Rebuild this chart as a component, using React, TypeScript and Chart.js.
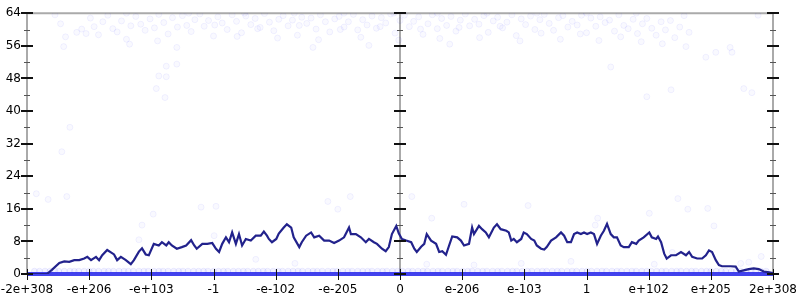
import React, { useEffect, useRef } from 'react';
import { Chart, registerables } from 'chart.js';

Chart.register(...registerables);

const xTickLabels = ['-2e+308', '-e+206', '-e+103', '-1', '-e-102', '-e-205', '0', 'e-206', 'e-103', '1', 'e+102', 'e+205', '2e+308'];
const yMajorTicks = [0, 8, 16, 24, 32, 40, 48, 56, 64];
const yMinorTicks = [4, 12, 20, 28, 36, 44, 52, 60];
const axisXs = [-6, 0, 6];

const avgX = [-6.00,-5.68,-5.60,-5.48,-5.40,-5.32,-5.24,-5.16,-5.08,-5.03,
-4.97,-4.89,-4.84,-4.79,-4.71,-4.65,-4.60,-4.55,-4.49,-4.41,
-4.33,-4.28,-4.20,-4.15,-4.09,-4.04,-3.96,-3.88,-3.83,-3.76,
-3.72,-3.67,-3.59,-3.51,-3.44,-3.36,-3.31,-3.27,-3.18,-3.10,
-3.02,-2.96,-2.91,-2.86,-2.80,-2.75,-2.70,-2.64,-2.59,-2.54,
-2.48,-2.40,-2.32,-2.24,-2.19,-2.14,-2.11,-2.06,-1.99,-1.95,
-1.87,-1.82,-1.75,-1.71,-1.62,-1.58,-1.51,-1.43,-1.38,-1.30,
-1.22,-1.14,-1.06,-0.98,-0.90,-0.82,-0.79,-0.71,-0.63,-0.55,
-0.50,-0.42,-0.37,-0.29,-0.23,-0.18,-0.13,-0.06,-0.02,0.03,
0.10,0.18,0.23,0.27,0.34,0.39,0.43,0.50,0.58,0.63,
0.68,0.74,0.79,0.84,0.92,0.98,1.03,1.11,1.16,1.19,
1.27,1.32,1.38,1.43,1.51,1.56,1.62,1.71,1.75,1.79,
1.83,1.88,1.95,1.99,2.04,2.11,2.16,2.20,2.27,2.32,
2.36,2.43,2.51,2.59,2.64,2.69,2.75,2.80,2.85,2.91,
2.96,3.01,3.07,3.12,3.17,3.23,3.28,3.33,3.39,3.44,
3.49,3.55,3.60,3.68,3.73,3.80,3.84,3.92,4.01,4.05,
4.12,4.15,4.20,4.25,4.29,4.36,4.44,4.52,4.60,4.65,
4.70,4.78,4.86,4.92,4.97,5.02,5.08,5.13,5.18,5.32,
5.40,5.45,5.53,5.61,5.69,5.77,5.85,5.94,6.00];

const avgY = [0,0,1.0,2.7,3.1,3.0,3.4,3.4,3.8,4.2,
3.4,4.2,3.4,4.6,5.9,5.3,4.8,3.4,4.2,3.4,
2.4,3.4,5.5,6.3,4.8,4.6,7.4,7.0,7.8,7.0,
7.8,7.0,6.2,6.6,7.0,8.3,7.0,6.2,7.4,7.4,
7.6,6.2,5.4,7.4,9.0,7.8,10.2,7.4,9.8,7.0,
8.6,8.2,9.4,9.4,10.4,9.4,8.6,7.8,8.6,9.9,
11.4,12.2,11.4,9.0,6.6,7.8,9.4,10.2,9.0,9.4,
8.2,8.2,7.6,8.2,9.0,11.4,9.8,9.8,9.0,7.8,
8.6,7.8,7.4,6.2,5.6,6.6,9.8,11.8,10.0,8.6,
8.2,7.8,6.2,5.4,6.7,7.4,9.8,8.2,7.4,5.4,
5.6,4.7,7.0,9.2,9.0,8.2,7.0,7.4,11.4,9.8,
11.8,11.0,10.2,9.0,11.4,12.2,11.0,10.6,10.2,8.2,
8.6,7.8,8.6,10.2,9.8,8.6,8.2,7.0,6.2,6.0,
6.6,8.2,9.0,10.2,9.4,7.8,7.8,9.8,10.2,9.8,
10.2,9.8,10.2,9.8,7.4,9.4,10.6,12.3,9.8,9.0,
9.0,7.0,6.6,6.6,7.8,7.4,8.2,9.0,10.2,9.0,
8.6,9.2,7.8,5.0,3.8,4.6,4.6,5.4,4.6,5.4,
4.2,3.8,3.8,4.6,5.8,5.4,3.4,2.2,1.9,1.9,
1.8,0.6,0.9,1.2,1.4,1.2,0.6,0.4,0.2];

const upperSamples: [number, number][] = [
[-5.55,63.6],[-5.46,61.4],[-5.38,58.2],[-5.41,55.8],[-5.2,59.3],[-5.12,60.1],[-5.05,59.0],[-4.98,62.8],[-4.92,60.7],[-4.85,58.7],
[-4.78,61.9],[-4.7,63.5],[-4.62,60.2],[-4.55,59.4],[-4.48,62.1],[-4.4,57.6],[-4.33,60.9],[-4.25,63.2],[-4.17,61.3],[-4.1,59.8],
[-4.02,62.6],[-3.95,60.4],[-3.88,63.7],[-3.8,61.7],[-3.73,58.9],[-3.66,62.9],[-3.58,60.6],[-3.5,63.4],[-3.43,61.0],[-3.36,59.5],
[-3.3,62.4],[-3.22,63.8],[-3.15,60.8],[-3.08,62.2],[-3.0,58.4],[-2.93,63.1],[-2.86,61.6],[-2.78,60.0],[-2.7,63.6],[-2.63,62.0],
[-2.55,59.2],[-2.48,63.3],[-2.4,61.2],[-2.33,62.7],[-2.25,60.5],[-2.18,63.9],[-2.1,61.8],[-2.03,59.7],[-1.95,62.5],[-1.88,63.4],
[-1.8,60.9],[-1.73,62.3],[-1.65,58.6],[-1.58,63.0],[-1.5,61.5],[-1.43,62.8],[-1.35,60.1],[-1.28,63.6],[-1.2,61.9],[-1.13,59.4],
[-1.05,62.6],[-0.98,63.2],[-0.9,60.6],[-0.83,61.9],[-0.75,63.7],[-0.68,59.9],[-0.6,62.4],[-0.53,61.1],[-0.45,63.3],[-0.38,60.3],
[-0.3,62.9],[-0.23,61.6],[-0.15,63.8],[-0.08,59.1],[0.0,62.2],[0.07,63.5],[0.15,60.7],[0.22,62.0],[0.3,63.1],[0.37,58.8],
[0.45,61.4],[0.52,63.6],[0.6,60.2],[0.67,62.7],[0.75,61.0],[0.82,63.2],[0.9,59.6],[0.97,62.3],[1.05,63.8],[1.12,60.9],
[1.2,62.5],[1.27,61.3],[1.35,63.4],[1.42,59.3],[1.5,62.1],[1.57,63.0],[1.65,60.4],[1.72,61.8],[1.8,63.6],[1.87,58.5],
[1.95,62.6],[2.02,61.2],[2.1,63.3],[2.17,60.0],[2.25,62.4],[2.32,63.7],[2.4,61.5],[2.47,59.8],[2.55,62.9],[2.62,63.4],
[2.7,60.6],[2.77,62.0],[2.85,61.1],[2.92,63.5],[3.0,59.2],[3.07,62.8],[3.15,60.8],[3.22,63.1],[3.3,61.7],[3.37,62.3],
[3.45,59.6],[3.52,63.6],[3.6,61.0],[3.67,60.2],[3.75,62.5],[3.82,59.0],[3.9,61.4],[3.97,62.7],[4.05,60.3],[4.12,58.6],
[4.2,61.9],[4.27,59.9],[4.35,62.2],[4.42,58.0],[4.5,60.6],[4.57,63.4],[4.65,59.3],
[-2.98,61.1],[-2.62,58.3],[-2.29,60.2],[-1.97,57.9],[-1.62,61.0],[-1.31,57.5],[-0.96,60.0],[-0.63,58.1],[-0.32,60.7],[-0.02,57.4],
[0.33,60.1],[0.64,57.8],[0.95,60.5],[1.28,58.0],[1.61,60.8],[1.93,57.2],[2.27,59.1],[2.58,57.6],[2.9,58.9],[3.2,57.3],
[3.55,58.2],[3.88,57.0],[4.22,56.5],[-3.9,57.2],[-4.35,56.4],[-0.5,56.1],[0.8,56.4],[-1.4,55.6],
[-2.5,64],[-1.7,64],[-0.9,64],[-0.1,64],[0.6,64],[1.4,64],[2.2,64],[3.0,64],[3.8,64],[-3.4,64],[-4.4,64]
];

const middleSamples: [number, number][] = [
[-3.92,45.5],[-3.88,48.6],[-3.76,51.0],[-3.59,51.5],[-3.59,55.6],[-3.76,48.4],[-3.78,43.3],[-5.31,36.0],[-5.44,30.0],[-5.85,19.7],
[-5.66,18.3],[-5.36,19.0],[-4.2,8.4],[-4.15,12.0],[-3.97,14.7],[-3.2,16.4],[-2.96,16.6],[-2.99,9.4],[-2.32,3.6],[-1.16,17.8],
[-1.0,15.9],[-0.8,19.0],[-1.69,2.6],[0.19,19.0],[1.03,17.1],[0.51,13.7],[0.43,2.4],[1.19,2.2],[1.95,2.6],[2.06,16.8],
[3.18,13.7],[3.14,12.0],[2.75,3.1],[4.47,18.5],[4.01,14.9],[4.63,15.9],[4.95,16.1],[5.05,11.8],[4.38,5.3],[5.48,2.6],
[5.61,2.9],[5.81,4.3],[4.09,2.4],[3.39,50.8],[3.97,43.5],[4.36,45.2],[4.92,53.2],[5.08,54.4],[5.34,54.4],[5.31,55.6],
[5.53,45.5],[5.66,44.5],[5.76,63.5],[4.6,55.8]
];

const lowRowValue = 0.7;
const lowRowX = [-5.88,-5.8,-5.71,-5.63,-5.55,-5.49,-5.4,-5.31,-5.24,-5.17,-5.08,-5.0,-4.93,-4.85,-4.76,-4.69,-4.61,-4.52,-4.44,-4.37,
-4.29,-4.2,-4.12,-4.05,-3.96,-3.88,-3.81,-3.73,-3.64,-3.56,-3.49,-3.41,-3.32,-3.24,-3.16,-3.09,-3.0,-2.92,-2.84,-2.77,
-2.68,-2.6,-2.52,-2.45,-2.36,-2.28,-2.2,-2.13,-2.04,-1.96,-1.89,-1.8,-1.72,-1.64,-1.57,-1.48,-1.4,-1.33,-1.25,-1.16,
-1.08,-1.01,-0.92,-0.84,-0.77,-0.68,-0.6,-0.52,-0.45,-0.36,-0.28,-0.21,-0.12,-0.04,0.04,0.13,0.2,0.29,0.37,0.44,
0.53,0.61,0.68,0.77,0.85,0.92,1.01,1.09,1.16,1.25,1.33,1.4,1.49,1.57,1.64,1.73,1.81,1.88,1.97,2.05,
2.12,2.21,2.29,2.36,2.45,2.53,2.6,2.69,2.77,2.84,2.93,3.01,3.08,3.17,3.25,3.32,3.41,3.49,3.56,3.65,
3.73,3.8,3.89,3.97,4.04,4.13,4.21,4.28,4.37,4.45,4.52,4.61,4.69,4.76,4.85,4.93,5.0,5.09,5.17,5.24,
5.33,5.41,5.48,5.57,5.65,5.72,5.81,5.89];

const zeroBandX = [-6, 6];

const axesPlugin = {
  id: 'bitAxes',
  beforeDatasetsDraw(chart: any) {
    const { ctx, scales } = chart;
    const x = scales.x, y = scales.y;
    const top = y.getPixelForValue(64);
    const bottom = y.getPixelForValue(0);
    ctx.save();
    ctx.strokeStyle = '#aaaaaa';
    ctx.lineWidth = 2;
    ctx.beginPath();
    axisXs.forEach((v) => {
      const px = x.getPixelForValue(v);
      ctx.moveTo(px, top - 1);
      ctx.lineTo(px, bottom);
    });
    ctx.moveTo(x.getPixelForValue(-6), top);
    ctx.lineTo(x.getPixelForValue(6), top);
    ctx.stroke();
    ctx.restore();
  },
  afterDatasetsDraw(chart: any) {
    const { ctx, scales } = chart;
    const x = scales.x, y = scales.y;
    ctx.save();
    axisXs.forEach((v) => {
      const px = Math.round(x.getPixelForValue(v));
      ctx.strokeStyle = '#111';
      ctx.lineWidth = 2;
      ctx.beginPath();
      yMajorTicks.forEach((t) => {
        const py = Math.round(y.getPixelForValue(t));
        ctx.moveTo(px - 6, py);
        ctx.lineTo(px + 6, py);
      });
      ctx.stroke();
      ctx.strokeStyle = '#555';
      ctx.lineWidth = 1;
      ctx.beginPath();
      yMinorTicks.forEach((t) => {
        const py = Math.round(y.getPixelForValue(t)) + 0.5;
        ctx.moveTo(px - 3, py);
        ctx.lineTo(px + 3, py);
      });
      ctx.stroke();
    });
    const bottom = Math.round(y.getPixelForValue(0));
    ctx.strokeStyle = '#111';
    ctx.lineWidth = 1;
    ctx.beginPath();
    xTickLabels.forEach((_, i) => {
      const px = Math.round(x.getPixelForValue(i - 6)) + 0.5;
      ctx.moveTo(px, bottom - 5);
      ctx.lineTo(px, bottom + 6);
    });
    ctx.stroke();
    ctx.restore();
  },
};

export default function App() {
  const canvasRef = useRef<HTMLCanvasElement | null>(null);

  useEffect(() => {
    const canvas = canvasRef.current;
    if (!canvas) return;
    Chart.defaults.font.family = 'DejaVu Sans';
    Chart.defaults.font.size = 12;
    Chart.defaults.color = '#000';

    const avgData = avgX.map((v, i) => ({ x: v, y: avgY[i] }));
    const sampleData = [
      ...upperSamples.map(([a, b]) => ({ x: a, y: b })),
      ...middleSamples.map(([a, b]) => ({ x: a, y: b })),
    ];
    const lowData = lowRowX.map((a) => ({ x: a, y: lowRowValue }));
    const zeroData = zeroBandX.map((a) => ({ x: a, y: 0 }));

    const chart = new Chart(canvas, {
      type: 'scatter',
      data: {
        datasets: [
          {
            label: 'moving average',
            data: avgData,
            showLine: true,
            pointRadius: 0,
            borderColor: '#22228c',
            borderWidth: 2.2,
            order: 0,
          },
          {
            label: 'zero samples',
            data: zeroData,
            showLine: true,
            pointRadius: 0,
            borderColor: 'rgba(45,45,235,0.9)',
            borderWidth: 4,
            clip: false,
            order: 1,
          },
          {
            label: 'low samples',
            data: lowData,
            pointRadius: 3,
            backgroundColor: 'rgba(0,0,255,0.05)',
            borderColor: 'rgba(0,0,255,0.07)',
            borderWidth: 1,
            clip: 0,
            order: 2,
          },
          {
            label: 'samples',
            data: sampleData,
            pointRadius: 3,
            backgroundColor: 'rgba(0,0,255,0.025)',
            borderColor: 'rgba(0,0,255,0.055)',
            borderWidth: 1,
            clip: 0,
            order: 3,
          },
        ] as any,
      },
      options: {
        animation: false,
        responsive: false,
        devicePixelRatio: 1,
        layout: { padding: { top: 8, right: 27, left: 0, bottom: 0 } },
        plugins: { legend: { display: false }, tooltip: { enabled: false } },
        scales: {
          x: {
            type: 'linear',
            min: -6,
            max: 6,
            grid: { display: false, drawTicks: false },
            border: { display: false },
            ticks: {
              stepSize: 1,
              autoSkip: false,
              maxRotation: 0,
              padding: 9,
              callback: (v: any) => xTickLabels[Math.round(Number(v)) + 6] ?? '',
            },
            afterFit: (s: any) => {
              s.height = 26;
              s.paddingLeft = 0;
              s.paddingRight = 0;
            },
          },
          y: {
            type: 'linear',
            min: 0,
            max: 64,
            grid: { display: false, drawTicks: false },
            border: { display: false },
            ticks: { stepSize: 8, padding: 6 },
            afterFit: (s: any) => {
              s.width = 27;
            },
          },
        },
      },
      plugins: [axesPlugin],
    });
    return () => chart.destroy();
  }, []);

  return (
    <div style={{ position: 'absolute', left: 0, top: 0, width: 800, height: 300, background: '#fff' }}>
      <canvas ref={canvasRef} width={800} height={300} style={{ width: 800, height: 300, display: 'block' }} />
    </div>
  );
}
